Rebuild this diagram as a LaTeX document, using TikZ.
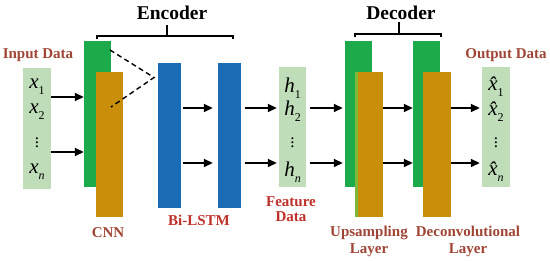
\documentclass[tikz,border=0pt]{standalone}
\usepackage{fontspec}
\setmainfont{Liberation Serif}
\usetikzlibrary{arrows.meta}
\definecolor{gblk}{HTML}{1DAA4B}
\definecolor{oblk}{HTML}{C98F0A}
\definecolor{bblk}{HTML}{1A6CB5}
\definecolor{lbox}{HTML}{BEDDB8}
\definecolor{stripc}{HTML}{7DB83A}
\definecolor{labc}{HTML}{A04535}
\definecolor{redc}{HTML}{C0302A}
\newcommand\vsym[2]{{\itshape #1}\raisebox{-0.28em}{\fontsize{12}{12}\selectfont #2}}
\newcommand\hsym[1]{{\itshape\^{x}}\raisebox{-0.28em}{\fontsize{12}{12}\selectfont #1}}
\begin{document}
\begin{tikzpicture}[x=1pt,y=-1pt,
  blk/.style={rectangle,draw=none,inner sep=0pt,fill=#1},
  lbl/.style={font=\fontsize{15}{16}\selectfont\bfseries,text=labc,align=center,inner sep=0pt},
  ttl/.style={font=\fontsize{19.5}{20}\selectfont\bfseries,text=black,inner sep=0pt},
  sym/.style={font=\fontsize{21}{22}\selectfont,inner sep=0pt},
  dts/.style={font=\fontsize{17}{17}\selectfont,inner sep=0pt},
  arr/.style={line width=1.7pt,-{Triangle[length=9pt,width=8pt]}},
  dsh/.style={line width=1.4pt,dash pattern=on 5pt off 3.5pt},
  brc/.style={line width=1.5pt}]
\useasboundingbox (0,0) rectangle (550,261);
% boxes
\node[blk=lbox,minimum width=28pt,minimum height=121pt] (in) at (37,128.5) {};
\node[blk=gblk,minimum width=27pt,minimum height=146pt] (cnng) at (97.5,114) {};
\node[blk=oblk,minimum width=27pt,minimum height=145pt] (cnno) at (109.5,144.5) {};
\node[blk=bblk,minimum width=23pt,minimum height=145pt] (l1) at (169.5,135.5) {};
\node[blk=bblk,minimum width=23pt,minimum height=145pt] (l2) at (229.5,135.5) {};
\node[blk=lbox,minimum width=27pt,minimum height=120pt] (feat) at (292.5,127) {};
\node[blk=gblk,minimum width=27pt,minimum height=146pt] (upg) at (358.5,114) {};
\node[blk=oblk,minimum width=28pt,minimum height=145pt] (upo) at (369,144.5) {};
\node[blk=stripc,minimum width=3pt,minimum height=145pt] (ups) at (356.5,144.5) {};
\node[blk=gblk,minimum width=27pt,minimum height=146pt] (dcg) at (426.5,114) {};
\node[blk=oblk,minimum width=28pt,minimum height=145pt] (dco) at (437,144.5) {};
\node[blk=lbox,minimum width=28pt,minimum height=120pt] (out) at (496,127) {};
% symbols
\node[sym] (x1) at (37,87) {\vsym{x}{1}};
\node[sym] (x2) at (37,112) {\vsym{x}{2}};
\node[dts] (xd) at (37,140) {$\vdots$};
\node[sym] (xn) at (37,172) {\vsym{x}{\itshape n}};
\node[sym] (h1) at (292.5,88) {\vsym{h}{1}};
\node[sym] (h2) at (292.5,111) {\vsym{h}{2}};
\node[dts] (hd) at (292.5,140) {$\vdots$};
\node[sym] (hn) at (292.5,172) {\vsym{h}{\itshape n}};
\node[sym] (o1) at (496,87) {\hsym{1}};
\node[sym] (o2) at (496,112) {\hsym{2}};
\node[dts] (od) at (496,140) {$\vdots$};
\node[sym] (on) at (496,172) {\hsym{\itshape n}};
% arrows
\draw[arr] (in.east |- 0,97) -- (cnng.west |- 0,97);
\draw[arr] (in.east |- 0,152) -- (cnng.west |- 0,152);
\draw[arr,shorten <=2pt,shorten >=5pt] (l1.east |- 0,108) -- (l2.west |- 0,108);
\draw[arr,shorten <=2pt,shorten >=5pt] (l1.east |- 0,163) -- (l2.west |- 0,163);
\draw[arr,shorten <=4pt,shorten >=2pt] (l2.east |- 0,108) -- (feat.west |- 0,108);
\draw[arr,shorten <=4pt,shorten >=2pt] (l2.east |- 0,163) -- (feat.west |- 0,163);
\draw[arr,shorten <=4pt,shorten >=2pt] (feat.east |- 0,108) -- (upg.west |- 0,108);
\draw[arr,shorten <=4pt,shorten >=2pt] (feat.east |- 0,163) -- (upg.west |- 0,163);
\draw[arr] (upo.east |- 0,108) -- (dcg.west |- 0,108);
\draw[arr] (upo.east |- 0,163) -- (dcg.west |- 0,163);
\draw[arr,shorten >=2pt] (dco.east |- 0,108) -- (out.west |- 0,108);
\draw[arr,shorten >=2pt] (dco.east |- 0,163) -- (out.west |- 0,163);
% dashed lines
\coordinate (dm) at (154,77.5);
\coordinate (da) at (110,50);
\coordinate (db) at (111,107);
\draw[dsh] (da) -- (dm) -- (db);
% braces
\draw[brc] (97,39.5) -- (97,36) -- (233,36) -- (233,39.5);
\draw[brc] (167,36) -- (167,25);
\draw[brc] (355,37.5) -- (355,34) -- (441,34) -- (441,37.5);
\draw[brc] (399,34) -- (399,22);
% titles
\node[ttl] (enc) at (172,13) {Encoder};
\node[ttl] (dec) at (401,13) {Decoder};
% labels
\node[lbl] (inl) at (38,55) {Input Data};
\node[lbl] (outl) at (506,55) {Output Data};
\node[lbl] (cnnl) at (108,233) {CNN};
\node[lbl,text=redc] (lstml) at (199,220) {Bi-LSTM};
\node[lbl,text=redc,font=\fontsize{15}{15}\selectfont\bfseries] (featl) at (291,209) {Feature\\Data};
\node[lbl,font=\fontsize{15}{17}\selectfont\bfseries] (upl) at (369,241) {Upsampling\\Layer};
\node[lbl,font=\fontsize{15}{17}\selectfont\bfseries] (dcl) at (468,241) {Deconvolutional\\Layer};
\end{tikzpicture}
\end{document}
